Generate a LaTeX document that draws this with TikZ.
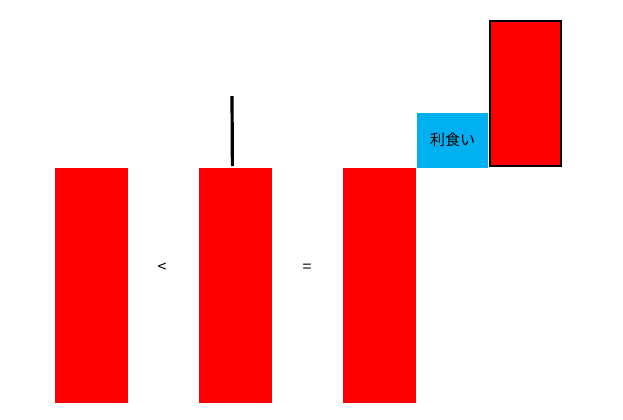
\documentclass[tikz,border=0pt]{standalone}
\usepackage{fontspec}
\newfontfamily\jpfont{Noto Sans CJK JP}
\usetikzlibrary{positioning}
\definecolor{barred}{HTML}{FF0000}
\definecolor{takeblue}{HTML}{00B0F0}

\begin{document}
\begin{tikzpicture}[
  x=0.5pt, y=-0.5pt,
  bar/.style={fill=barred, inner sep=0pt, anchor=north west,
    minimum width=36.5pt, minimum height=117.5pt},
  sign/.style={font=\jpfont\fontsize{8}{9}\selectfont, inner sep=0pt},
]

% Frame of the page
\useasboundingbox (0,0) rectangle (623,419);

% === Bars ===
\node[bar] (bar1) at (55,168) {};
\node[bar] (bar2) at (199,168) {};
\node[bar] (bar3) at (343,168) {};

% Wick over the middle bar
\coordinate (wickfoot) at ([xshift=-1.75pt, yshift=1pt]bar2.north);
\coordinate (wicktop) at (232,96);
\draw[line width=1.6pt] (wickfoot) -- (wicktop);

% === Signs between bars ===
\node[sign] (lt) at (162,268) {<};
\node[sign] (eq) at (307,268) {=};

% === Profit-taking step ===
\node[fill=takeblue, inner sep=0pt, anchor=south west,
  minimum width=35.5pt, minimum height=27.5pt,
  font=\jpfont\fontsize{7.5}{9}\selectfont] (take) at (bar3.north east) {利食い};
\node[draw, line width=1pt, fill=barred, inner sep=0pt, anchor=south west,
  minimum width=35.5pt, minimum height=72.5pt] (bar4)
  at ([yshift=0.5pt]take.south east) {};

\end{tikzpicture}
\end{document}
